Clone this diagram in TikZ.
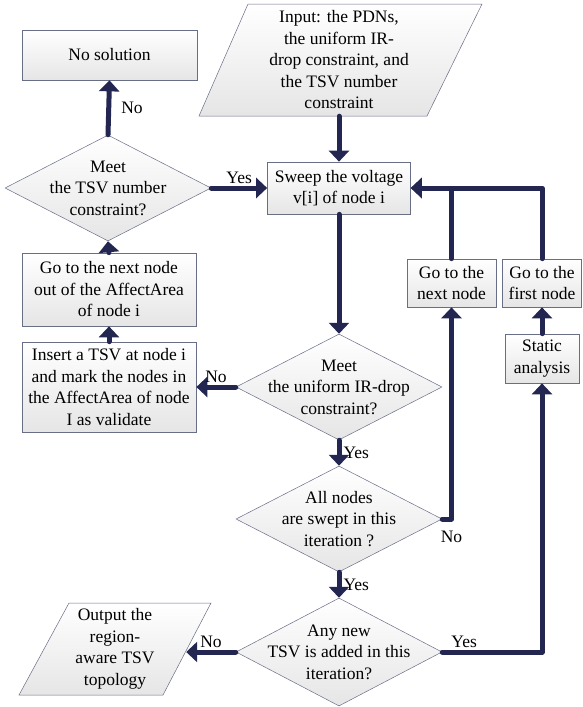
\documentclass[tikz,border=0pt]{standalone}
\usepackage{fontspec}
\setmainfont{Liberation Serif}
\usetikzlibrary{arrows.meta,shapes.geometric}
\definecolor{flowline}{RGB}{35,38,80}
\definecolor{boxline}{RGB}{105,110,135}

\begin{document}
\begin{tikzpicture}[x=1pt, y=-1pt,
  every node/.style={font=\fontsize{17.5}{21.5}\selectfont},
  txt/.style={align=center, inner sep=1pt},
  proc/.style={txt, rectangle, draw=boxline, line width=0.7pt, top color=white, bottom color=gray!20},
  dec/.style={diamond, aspect=2, inner sep=0pt, draw=boxline, line width=0.5pt, top color=white, bottom color=gray!20, minimum width=206, minimum height=106},
  io/.style={draw=boxline, line width=0.5pt, top color=white, bottom color=gray!20},
  flow/.style={flowline, line width=5pt, line join=round, line cap=round, -{Triangle[width=20pt,length=11pt]}},
  lab/.style={inner sep=2pt, text=black}
]
\useasboundingbox (0,0) rectangle (582,707);

% Input
\draw[io] (248,4) -- (482,4) -- (427,116) -- (199,116) -- cycle;
\node[txt, minimum width=180, minimum height=112] (input) at (339,60) {Input: the PDNs,\\the uniform IR-\\drop constraint, and\\the TSV number\\constraint};

% Main column
\node[proc, minimum width=143, minimum height=52] (sweep) at (339,188) {Sweep the voltage\\v[i] of node i};
\node[dec, label={[txt]center:{Meet\\the uniform IR-drop\\constraint?}}] (irq) at (339,387) {};
\node[dec, label={[txt]center:{All nodes\\are swept in this\\iteration ?}}] (allq) at (339,519) {};
\node[dec, minimum height=108, label={[txt]center:{Any new\\TSV is added in this\\iteration?}}] (anyq) at (339,652) {};

% Left column
\node[proc, minimum width=175, minimum height=50] (nosol) at (109.5,55) {No solution};
\node[dec, label={[txt]center:{Meet\\the TSV number\\constraint?}}] (tsvq) at (108,188) {};
\node[proc, minimum width=174, minimum height=73] (outnext) at (109,289.5) {Go to the next node\\out of the AffectArea\\of node i};
\node[proc, minimum width=174, minimum height=90] (insert) at (109,387) {Insert a TSV at node i\\and mark the nodes in\\the AffectArea of node\\I as validate};

% Output
\draw[io] (69,603) -- (211,603) -- (163,695) -- (19,695) -- cycle;
\node[txt, minimum width=142, minimum height=92] (output) at (115,649) {Output the\\region-\\aware TSV\\topology};

% Right column
\node[proc, minimum width=89, minimum height=48] (nextnode) at (451.5,283) {Go to the\\next node};
\node[proc, minimum width=79, minimum height=48] (firstnode) at (542,283) {Go to the\\first node};
\node[proc, minimum width=74, minimum height=49] (static) at (542,358.5) {Static\\analysis};

% Connectors
\draw[flow] (input.south) -- (sweep.north);
\draw[flow] (sweep.south) -- (irq.north);
\draw[flow] (irq.south) -- node[lab, right] {Yes} (allq.north);
\draw[flow] (allq.south) -- node[lab, right] {Yes} (anyq.north);
\draw[flow] (anyq.west) -- node[lab, above] {No} (anyq.west -| output.east);
\draw[flow] (irq.west) -- node[lab, above] {No} (insert.east);
\draw[flow] (insert.north) -- (outnext.south);
\draw[flow] (outnext.north) -- (tsvq.south);
\draw[flow] (tsvq.north) -- node[lab, right=8pt] {No} (nosol.south);
\draw[flow] (tsvq.east) -- node[lab, above] {Yes} (sweep.west);
\draw[flow] (allq.east) -| node[lab, below=8pt, pos=0.5] {No} (nextnode.south);
\draw[flow] (anyq.east) -| node[lab, above, pos=0.11] {Yes} (static.south);
\draw[flow] (static.north) -- (firstnode.south);
\draw[flow] (nextnode.north) |- (sweep.east);
\draw[flow] (firstnode.north) |- (sweep.east);
\end{tikzpicture}
\end{document}
